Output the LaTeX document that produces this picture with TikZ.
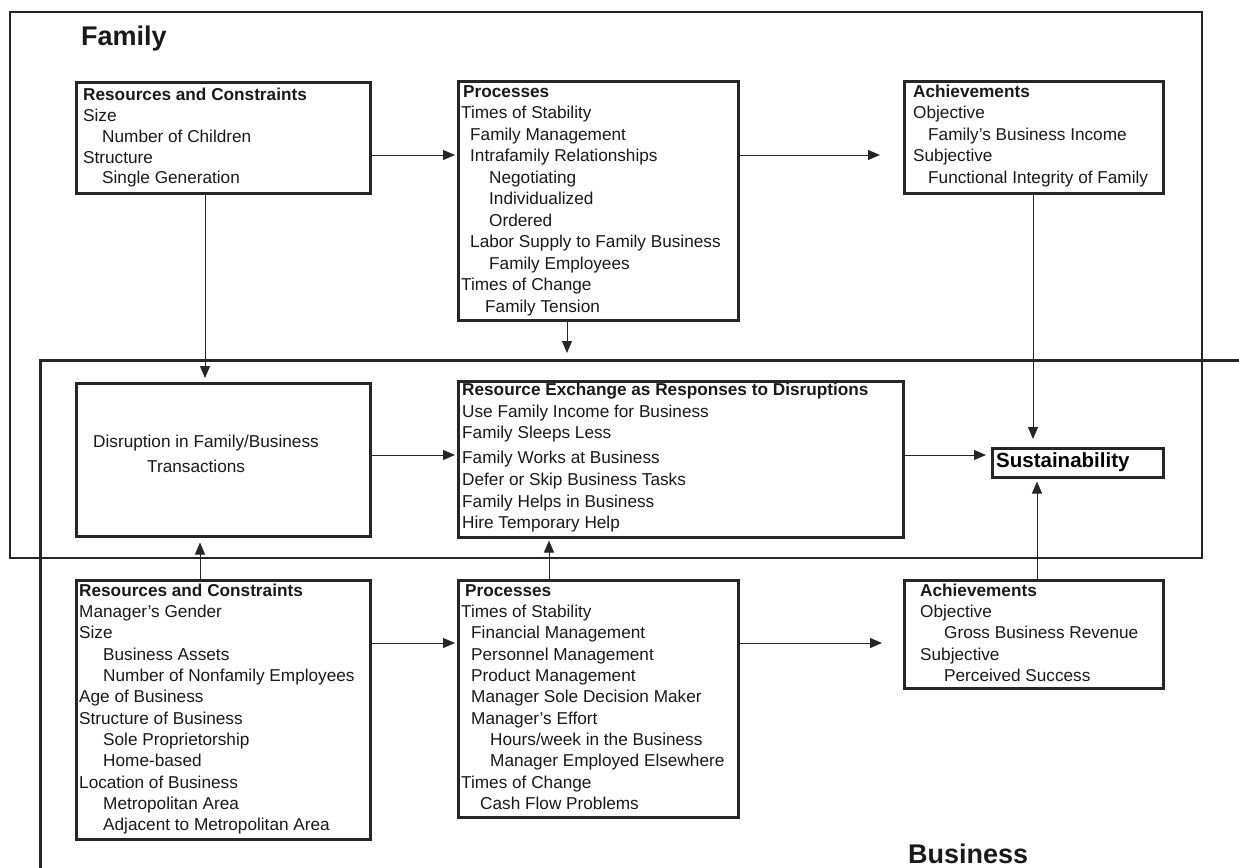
\documentclass[tikz,border=0pt]{standalone}
\usepackage{fontspec}
\setmainfont{Liberation Sans}
\usetikzlibrary{arrows.meta,calc}
\tikzset{
 box/.style={draw=black!85, line width=2.5bp, inner sep=0pt, anchor=north west},
 txt/.style={inner sep=0pt, anchor=base west, font=\fontsize{17.2bp}{21bp}\selectfont, text=black!90},
 biglabel/.style={inner sep=0pt, anchor=base west, font=\bfseries\fontsize{27bp}{30bp}\selectfont, text=black!90},
 arr/.style={draw=black!85, line width=1bp, -{Triangle[length=12bp,width=10bp]}},
 frame/.style={draw=black!85, line width=2bp},
}
\newcommand{\tlines}[3]{\foreach \ind/\yy/\txt [count=\i] in {#3}{\node[txt] (#1\i) at (#2+\ind,\yy) {\txt};}}
\begin{document}
\begin{tikzpicture}[x=1bp,y=-1bp]
\useasboundingbox (0,0) rectangle (1239,868);
% frames
\draw[frame] (10,12) rectangle (1202,558);
\draw[draw=black!85, line width=3bp] (1239,360) -- (40,360) -- (40,868);
% labels
\node[biglabel] (famlabel) at (81,45) {Family};
\node[biglabel] (buslabel) at (908,863) {Business};
% boxes
\node[box, minimum width=294bp, minimum height=111bp] (frc) at (75,81) {};
\node[box, minimum width=280bp, minimum height=239bp] (fpr) at (457,80) {};
\node[box, minimum width=259bp, minimum height=112bp] (fach) at (903,80) {};
\node[box, minimum width=294bp, minimum height=153bp] (dis) at (75,382) {};
\node[box, minimum width=445bp, minimum height=156bp] (rex) at (457,380) {};
\node[box, minimum width=171bp, minimum height=29bp] (sus) at (991,447) {};
\node[box, minimum width=294bp, minimum height=259bp] (brc) at (75,579) {};
\node[box, minimum width=280bp, minimum height=237bp] (bpr) at (457,579) {};
\node[box, minimum width=259bp, minimum height=108bp] (bach) at (903,579) {};
% texts
\tlines{fa}{83}{0/100/{\textbf{Resources and Constraints}}, 0/121/{Size}, 19/142/{Number of Children}, 0/163/{Structure}, 19/183/{Single Generation}}
\tlines{fb}{461}{2/97/{\textbf{Processes}}, 0/118/{Times of Stability}, 9/140/{Family Management}, 9/161/{Intrafamily Relationships}, 28/183/{Negotiating}, 28/204/{Individualized}, 28/226/{Ordered}, 9/247/{Labor Supply to Family Business}, 28/269/{Family Employees}, 0/290/{Times of Change}, 24/312/{Family Tension}}
\tlines{fc}{913}{0/97/{\textbf{Achievements}}, 0/118/{Objective}, 15/140/{Family's Business Income}, 0/161/{Subjective}, 15/183/{Functional Integrity of Family}}
\node[txt] (dx1) at (93,447) {Disruption in Family/Business};
\node[txt] (dx2) at (147,472) {Transactions};
\tlines{rx}{462}{0/395/{\textbf{Resource Exchange as Responses to Disruptions}}, 0/417/{Use Family Income for Business}, 0/438/{Family Sleeps Less}, 0/463/{Family Works at Business}, 0/485/{Defer or Skip Business Tasks}, 0/507/{Family Helps in Business}, 0/528/{Hire Temporary Help}}
\node[inner sep=0pt, anchor=base west, font=\bfseries\fontsize{20.5bp}{24bp}\selectfont] (sustxt) at (996,467) {Sustainability};
\tlines{ba}{79}{0/596/{\textbf{Resources and Constraints}}, 0/617/{Manager's Gender}, 0/638/{Size}, 24/660/{Business Assets}, 24/681/{Number of Nonfamily Employees}, 0/702/{Age of Business}, 0/724/{Structure of Business}, 24/745/{Sole Proprietorship}, 24/766/{Home-based}, 0/788/{Location of Business}, 24/809/{Metropolitan Area}, 24/830/{Adjacent to Metropolitan Area}}
\tlines{bb}{461}{4/596/{\textbf{Processes}}, 0/617/{Times of Stability}, 10/638/{Financial Management}, 10/660/{Personnel Management}, 10/681/{Product Management}, 10/702/{Manager Sole Decision Maker}, 10/724/{Manager's Effort}, 29/745/{Hours/week in the Business}, 29/766/{Manager Employed Elsewhere}, 0/788/{Times of Change}, 19/809/{Cash Flow Problems}}
\tlines{bc}{920}{0/596/{\textbf{Achievements}}, 0/617/{Objective}, 24/638/{Gross Business Revenue}, 0/660/{Subjective}, 24/681/{Perceived Success}}
% connectors
\coordinate (bustop) at (567,353);
\draw[arr, shorten >=2bp] (frc.east |- 0,155) -- (fpr.west |- 0,155);
\draw[arr, shorten >=23bp] (fpr.east |- 0,155) -- (fach.west |- 0,155);
\draw[arr, shorten >=4bp] ($(frc.south west)+(130,0)$) -- ($(dis.north west)+(130,0)$);
\draw[arr] ($(fpr.south west)+(110,0)$) -- (bustop);
\draw[arr, shorten >=8bp] ($(fach.south west)+(130,0)$) -- ($(sus.north west)+(42,0)$);
\draw[arr, shorten >=2bp] (dis.east |- 0,455) -- (rex.west |- 0,455);
\draw[arr, shorten >=5bp] (rex.east |- 0,455) -- (sus.west |- 0,455);
\draw[arr, shorten >=5bp] ($(brc.north west)+(125,0)$) -- ($(dis.south west)+(125,0)$);
\draw[arr, shorten >=2bp] ($(bpr.north west)+(92,0)$) -- ($(rex.south west)+(92,0)$);
\draw[arr, shorten >=3bp] ($(bach.north west)+(134,0)$) -- ($(sus.south west)+(46,0)$);
\draw[arr, shorten >=2bp] (brc.east |- 0,643) -- (bpr.west |- 0,643);
\draw[arr, shorten >=21bp] (bpr.east |- 0,643) -- (bach.west |- 0,643);
\end{tikzpicture}
\end{document}
